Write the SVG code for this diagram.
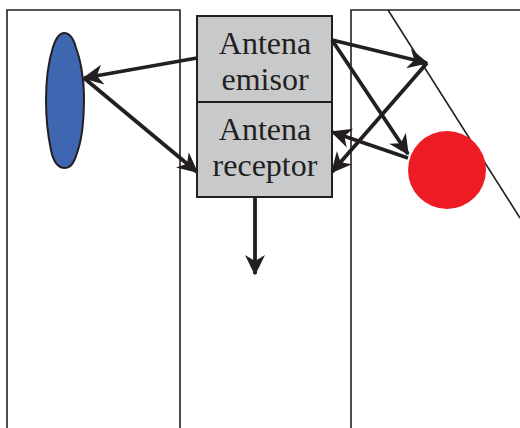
<svg xmlns="http://www.w3.org/2000/svg" width="520" height="428" viewBox="0 0 520 428">
  <style>
    .lane { fill: none; stroke: #231f20; stroke-width: 1.6; }
    .box { fill: #c8c9cb; stroke: #231f20; stroke-width: 2; }
    .label { font-family: "Liberation Serif", "Times New Roman", serif; font-size: 32px; fill: #231f20; text-anchor: middle; }
    .conn { fill: none; stroke: #231f20; stroke-width: 3.8; marker-end: url(#head); }
  </style>
  <defs>
    <marker id="head" markerUnits="userSpaceOnUse" markerWidth="26" markerHeight="24" viewBox="-22 -12 26 24" refX="0" refY="0" orient="auto">
      <path d="M1.5,0 L-19,-10 L-13,0 L-19,10 Z" fill="#231f20"/>
    </marker>
  </defs>
  <rect width="520" height="428" fill="#ffffff"/>

  <!-- lanes -->
  <g id="lanes">
    <path class="lane" d="M7,428 V10 H180 V428"/>
    <path class="lane" d="M351,428 V10 H520"/>
    <path class="lane" d="M388,10 L520,218"/>
  </g>

  <!-- blue target -->
  <g id="blue-target">
    <path d="M64,33 C70,33 74,40 76,48 C80,58 84,78 84,96 C84,118 82,138 78,150 C75,160 72,168 65,168 C57,168 53,160 51,150 C48,136 46,118 46,100 C46,80 49,60 53,47 C56,38 59,33 64,33 Z" fill="#3f66b1" stroke="#231f20" stroke-width="2"/>
  </g>

  <!-- red target -->
  <g id="red-target">
    <circle cx="447" cy="170" r="39" fill="#ed1c24"/>
  </g>

  <!-- emitter antenna -->
  <g id="antena-emisor">
    <rect class="box" x="197" y="16" width="135" height="86"/>
    <text class="label" x="265" y="54">Antena</text>
    <text class="label" x="265" y="90">emisor</text>
  </g>

  <!-- receiver antenna -->
  <g id="antena-receptor">
    <rect class="box" x="197" y="102" width="135" height="95"/>
    <text class="label" x="265" y="140">Antena</text>
    <text class="label" x="265" y="176">receptor</text>
  </g>

  <!-- signal paths -->
  <g id="connectors">
    <line class="conn" x1="197" y1="58" x2="84" y2="78"/>
    <line class="conn" x1="84" y1="78" x2="197" y2="172"/>
    <line class="conn" x1="332" y1="40" x2="427" y2="63"/>
    <line class="conn" x1="332" y1="40" x2="408" y2="154"/>
    <line class="conn" x1="427" y1="63" x2="332" y2="172"/>
    <line class="conn" x1="408" y1="158" x2="332" y2="132"/>
    <line class="conn" x1="255" y1="197" x2="255" y2="274"/>
  </g>
</svg>
